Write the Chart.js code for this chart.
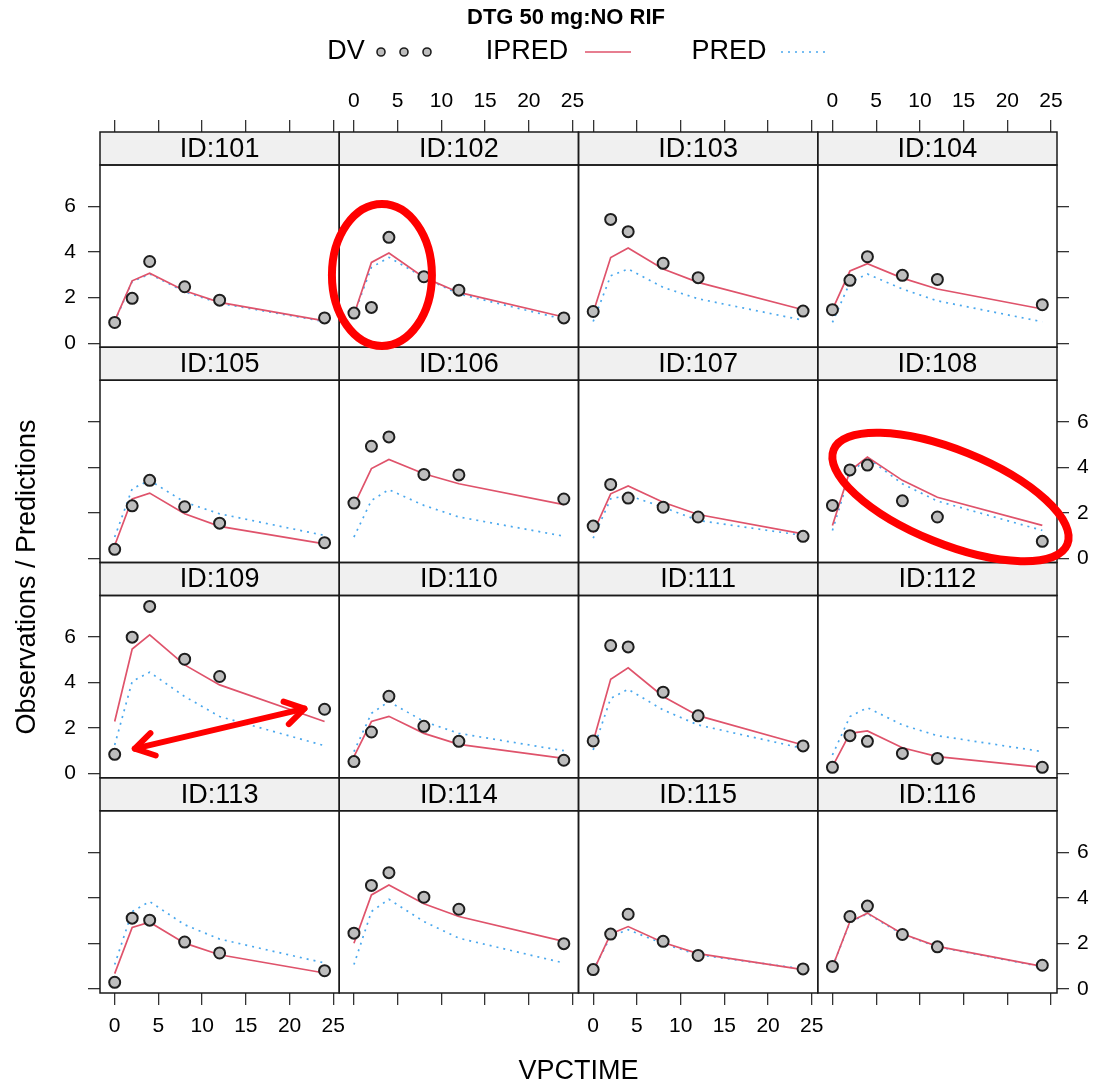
<!DOCTYPE html>
<html>
<head>
<meta charset="utf-8">
<title>DTG 50 mg:NO RIF</title>
<script src="https://cdn.jsdelivr.net/npm/chart.js@4.4.1/dist/chart.umd.min.js"></script>
<style>
  html, body { margin: 0; padding: 0; background: #fff; }
  #wrap { position: relative; width: 1099px; height: 1087px; }
</style>
</head>
<body>
<div id="wrap"><canvas id="chart" width="1099" height="1087"></canvas></div>
<script>
// panel labels, in lattice table order (top row first)
const ids = ['ID:101', 'ID:102', 'ID:103', 'ID:104',
             'ID:105', 'ID:106', 'ID:107', 'ID:108',
             'ID:109', 'ID:110', 'ID:111', 'ID:112',
             'ID:113', 'ID:114', 'ID:115', 'ID:116'];
const times = [0, 2, 4, 8, 12, 24];

// observations
const dv = [
  [0.91, 1.97, 3.59, 2.48, 1.89, 1.11],
  [1.32, 1.57, 4.65, 2.92, 2.33, 1.11],
  [1.39, 5.44, 4.90, 3.51, 2.88, 1.41],
  [1.47, 2.76, 3.80, 2.98, 2.80, 1.69],
  [0.40, 2.31, 3.43, 2.27, 1.55, 0.69],
  [2.43, 4.93, 5.34, 3.69, 3.67, 2.61],
  [1.42, 3.25, 2.65, 2.25, 1.82, 0.97],
  [2.33, 3.89, 4.10, 2.53, 1.82, 0.75],
  [0.85, 6.00, 7.35, 5.03, 4.27, 2.83],
  [0.53, 1.83, 3.40, 2.08, 1.42, 0.59],
  [1.44, 5.63, 5.57, 3.58, 2.54, 1.22],
  [0.28, 1.67, 1.42, 0.89, 0.67, 0.28],
  [0.29, 3.11, 3.02, 2.06, 1.58, 0.80],
  [2.45, 4.55, 5.11, 4.03, 3.50, 1.99],
  [0.85, 2.41, 3.28, 2.09, 1.47, 0.88],
  [0.99, 3.18, 3.64, 2.39, 1.85, 1.04]
];
// individual predictions
const ipred = [
  [0.98, 2.74, 3.07, 2.30, 1.79, 0.98],
  [1.25, 3.55, 3.96, 2.89, 2.23, 1.15],
  [1.35, 3.76, 4.18, 3.26, 2.67, 1.47],
  [1.47, 3.17, 3.49, 2.86, 2.38, 1.50],
  [0.57, 2.61, 2.87, 1.96, 1.41, 0.64],
  [2.33, 3.95, 4.35, 3.72, 3.28, 2.36],
  [1.13, 2.84, 3.18, 2.47, 1.93, 1.08],
  [1.45, 3.85, 4.45, 3.43, 2.69, 1.45],
  [2.29, 5.48, 6.10, 4.78, 3.90, 2.29],
  [0.75, 2.29, 2.52, 1.77, 1.29, 0.67],
  [1.41, 4.15, 4.65, 3.39, 2.55, 1.26],
  [0.31, 1.77, 1.88, 1.14, 0.75, 0.28],
  [0.67, 2.70, 2.93, 2.01, 1.50, 0.70],
  [2.01, 4.13, 4.57, 3.74, 3.18, 2.09],
  [0.77, 2.42, 2.74, 2.04, 1.55, 0.85],
  [0.96, 2.96, 3.33, 2.42, 1.87, 0.99]
];
// population predictions
const pred = [
  [0.95, 2.71, 3.04, 2.26, 1.75, 0.95],
  [1.25, 3.33, 3.77, 2.89, 2.16, 1.05],
  [0.95, 2.96, 3.26, 2.45, 1.95, 1.01],
  [0.91, 2.67, 3.04, 2.38, 1.86, 0.94],
  [0.94, 3.06, 3.43, 2.47, 1.96, 1.01],
  [0.94, 2.55, 3.02, 2.33, 1.82, 0.98],
  [0.89, 2.62, 2.77, 2.25, 1.67, 1.01],
  [1.23, 3.72, 4.42, 3.28, 2.52, 1.23],
  [1.26, 4.05, 4.46, 3.39, 2.51, 1.23],
  [0.97, 2.65, 3.17, 2.29, 1.77, 1.01],
  [1.04, 3.31, 3.71, 2.80, 2.14, 1.11],
  [0.82, 2.51, 2.90, 2.14, 1.67, 0.97],
  [1.07, 3.40, 3.84, 2.82, 2.19, 1.14],
  [1.07, 3.40, 3.94, 2.96, 2.23, 1.14],
  [0.82, 2.31, 2.60, 1.99, 1.50, 0.88],
  [0.96, 2.93, 3.30, 2.40, 1.85, 0.97]
];
const xTicks = [0, 5, 10, 15, 20, 25];
const yTicks = [0, 2, 4, 6];

// red hand-drawn highlights: panel index, centre / ends in data units
const ellipses = [
  { panel: 1, x: 3.2, y: 3.0, rx: 50, ry: 71, angle: 0 },
  { panel: 7, x: 13.5, y: 2.7, rx: 126, ry: 47, angle: 22 }
];
const arrows = [
  { panel: 8, x1: 2.3, y1: 1.1, x2: 21.7, y2: 2.86 }
];

const FAM = '"Liberation Sans", Arial, sans-serif';
Chart.defaults.font.family = FAM;
Chart.defaults.color = '#000';

const xMin = -1.68, xMax = 25.68, yMin = -0.18, yMax = 7.83;
const stripW = 33, panelW = 182.25;
const tickFont = { family: FAM, size: 21 };
const tickGrid = { drawOnChartArea: false, tickLength: 12, color: '#333', lineWidth: 1.3 };

const scales = {};
for (let c = 0; c < 4; c++) {
  scales['xb' + c] = {
    type: 'linear', position: 'bottom', stack: 'bot', weight: c,
    min: xMin, max: xMax,
    afterBuildTicks: s => { s.ticks = xTicks.map(v => ({ value: v })); },
    afterFit: s => { s.height = 94; },
    grid: tickGrid, border: { display: false },
    ticks: { display: c % 2 === 0, font: tickFont, padding: 9, maxRotation: 0, autoSkip: false }
  };
  scales['xt' + c] = {
    type: 'linear', position: 'top', stack: 'top', weight: 10 - c,
    min: xMin, max: xMax,
    afterBuildTicks: s => { s.ticks = xTicks.map(v => ({ value: v })); },
    afterFit: s => { s.height = 132; },
    grid: tickGrid, border: { display: false },
    ticks: { display: c % 2 === 1, font: tickFont, padding: 6, maxRotation: 0, autoSkip: false }
  };
}
for (let r = 0; r < 4; r++) {
  const strip = (pos, w, wt) => ({
    type: 'linear', position: pos, stack: pos, stackWeight: stripW, weight: wt,
    min: 0, max: 1, afterFit: s => { s.width = w; },
    grid: { display: false }, border: { display: false }, ticks: { display: false }
  });
  const panel = (pos, w, wt, show, pad) => ({
    type: 'linear', position: pos, stack: pos, stackWeight: panelW, weight: wt,
    min: yMin, max: yMax,
    afterBuildTicks: s => { s.ticks = yTicks.map(v => ({ value: v })); },
    afterFit: s => { s.width = w; },
    grid: tickGrid, border: { display: false },
    ticks: { display: show, font: tickFont, padding: pad }
  });
  scales['ls' + r] = strip('left', 100, 100 - 2 * r);
  scales['lp' + r] = panel('left', 100, 99 - 2 * r, r % 2 === 0, 12);
  scales['rs' + r] = strip('right', 42, 2 * r);
  scales['rp' + r] = panel('right', 42, 2 * r + 1, r % 2 === 1, 8);
}

const datasets = [];
ids.forEach((id, i) => {
  const r = Math.floor(i / 4), c = i % 4;
  const xy = arr => times.map((t, j) => ({ x: t, y: arr[j] }));
  datasets.push({
    label: 'DV ' + id, data: xy(dv[i]), xAxisID: 'xb' + c, yAxisID: 'lp' + r,
    showLine: false, pointRadius: 5.5, pointBorderWidth: 2,
    pointBackgroundColor: '#bebebe', pointBorderColor: '#1e1e1e'
  });
  datasets.push({
    label: 'IPRED ' + id, data: xy(ipred[i]), xAxisID: 'xb' + c, yAxisID: 'lp' + r,
    borderColor: '#df536b', borderWidth: 1.7, pointRadius: 0, tension: 0, fill: false
  });
  datasets.push({
    label: 'PRED ' + id, data: xy(pred[i]), xAxisID: 'xb' + c, yAxisID: 'lp' + r,
    borderColor: '#4aa8ee', borderWidth: 1.7, borderDash: [2, 5], pointRadius: 0, tension: 0, fill: false
  });
});

function toPx(chart, panel, x, y) {
  const r = Math.floor(panel / 4), c = panel % 4;
  return [chart.scales['xb' + c].getPixelForValue(x), chart.scales['lp' + r].getPixelForValue(y)];
}

function arrowHead(ctx, fx, fy, tx, ty, len) {
  const a = Math.atan2(ty - fy, tx - fx);
  ctx.beginPath();
  ctx.moveTo(tx - len * Math.cos(a - 0.55), ty - len * Math.sin(a - 0.55));
  ctx.lineTo(tx, ty);
  ctx.lineTo(tx - len * Math.cos(a + 0.55), ty - len * Math.sin(a + 0.55));
  ctx.stroke();
}

const lattice = {
  id: 'lattice',
  beforeDatasetsDraw(chart) {
    const ctx = chart.ctx;
    ctx.save();
    for (let r = 0; r < 4; r++) {
      for (let c = 0; c < 4; c++) {
        const xs = chart.scales['xb' + c], ss = chart.scales['ls' + r];
        ctx.fillStyle = '#f0f0f0';
        ctx.fillRect(xs.left, ss.top, xs.right - xs.left, ss.bottom - ss.top);
        ctx.fillStyle = '#000';
        ctx.font = '27px ' + FAM;
        ctx.textAlign = 'center';
        ctx.textBaseline = 'middle';
        ctx.fillText(ids[r * 4 + c], (xs.left + xs.right) / 2, (ss.top + ss.bottom) / 2 + 1);
      }
    }
    ctx.restore();
  },
  afterDatasetsDraw(chart) {
    const ctx = chart.ctx;
    ctx.save();
    ctx.strokeStyle = '#1a1a1a';
    ctx.lineWidth = 1.5;
    for (let r = 0; r < 4; r++) {
      for (let c = 0; c < 4; c++) {
        const xs = chart.scales['xb' + c];
        const ss = chart.scales['ls' + r], ps = chart.scales['lp' + r];
        ctx.strokeRect(xs.left, ss.top, xs.right - xs.left, ss.bottom - ss.top);
        ctx.strokeRect(xs.left, ps.top, xs.right - xs.left, ps.bottom - ps.top);
      }
    }
    ctx.restore();
  },
  afterDraw(chart) {
    const ctx = chart.ctx;
    const area = chart.chartArea;
    const mid = (area.left + area.right) / 2;
    ctx.save();
    ctx.fillStyle = '#000';
    ctx.textBaseline = 'middle';
    ctx.textAlign = 'center';
    // main title
    ctx.font = 'bold 22px ' + FAM;
    ctx.fillText('DTG 50 mg:NO RIF', 566, 18);
    // key
    ctx.font = '27px ' + FAM;
    ctx.fillText('DV', 346, 52);
    ctx.fillText('IPRED', 527, 52);
    ctx.fillText('PRED', 729, 52);
    [381, 404, 427].forEach(x => {
      ctx.beginPath();
      ctx.arc(x, 52, 4, 0, Math.PI * 2);
      ctx.fillStyle = '#bebebe';
      ctx.fill();
      ctx.lineWidth = 1.6;
      ctx.strokeStyle = '#1e1e1e';
      ctx.stroke();
    });
    ctx.lineWidth = 1.7;
    ctx.strokeStyle = '#df536b';
    ctx.beginPath(); ctx.moveTo(585, 52); ctx.lineTo(631, 52); ctx.stroke();
    ctx.strokeStyle = '#4aa8ee';
    ctx.setLineDash([2, 5]);
    ctx.beginPath(); ctx.moveTo(781, 52); ctx.lineTo(827, 52); ctx.stroke();
    ctx.setLineDash([]);

    // red highlights
    ctx.strokeStyle = '#ff0000';
    ctx.lineWidth = 8;
    ctx.lineCap = 'round';
    ctx.lineJoin = 'round';
    ellipses.forEach(e => {
      const [cx, cy] = toPx(chart, e.panel, e.x, e.y);
      ctx.beginPath();
      ctx.ellipse(cx, cy, e.rx, e.ry, e.angle * Math.PI / 180, 0, Math.PI * 2);
      ctx.stroke();
    });
    arrows.forEach(a => {
      const [x1, y1] = toPx(chart, a.panel, a.x1, a.y1);
      const [x2, y2] = toPx(chart, a.panel, a.x2, a.y2);
      ctx.lineWidth = 6;
      ctx.beginPath(); ctx.moveTo(x1, y1); ctx.lineTo(x2, y2); ctx.stroke();
      arrowHead(ctx, x1, y1, x2, y2, 22);
      arrowHead(ctx, x2, y2, x1, y1, 22);
    });

    // axis titles
    ctx.fillStyle = '#000';
    ctx.font = '27px ' + FAM;
    ctx.fillText('VPCTIME', mid, 1072);
    ctx.translate(28, 577);
    ctx.rotate(-Math.PI / 2);
    ctx.fillText('Observations / Predictions', 0, 0);
    ctx.restore();
  }
};

new Chart(document.getElementById('chart').getContext('2d'), {
  type: 'line',
  data: { datasets: datasets },
  options: {
    responsive: false,
    devicePixelRatio: 1,
    animation: false,
    layout: { padding: 0 },
    plugins: { legend: { display: false }, title: { display: false }, tooltip: { enabled: false } },
    events: [],
    scales: scales
  },
  plugins: [lattice]
});
</script>
</body>
</html>
